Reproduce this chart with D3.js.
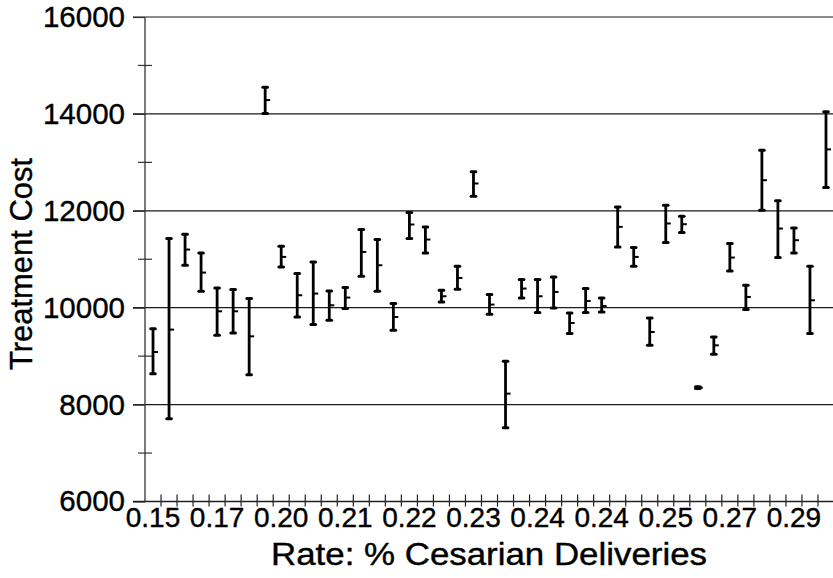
<!DOCTYPE html>
<html>
<head>
<meta charset="utf-8">
<script src="https://cdn.jsdelivr.net/npm/d3@7"></script>
<style>
  html, body { margin: 0; padding: 0; background: #fff; }
  svg { display: block; font-family: "Liberation Sans", Arial, Helvetica, sans-serif; }
</style>
</head>
<body>
<svg id="chart" width="833" height="578"></svg>
<script>
// ---- Data ----
const means = [9085, 9548, 11200, 10725, 9926, 9926, 9409, 14285, 11048, 10257, 10292, 10050, 10209, 11151, 10876, 9808, 11717, 11407, 10236, 10614, 12564, 10064, 8226, 10395, 10236, 10325, 9684, 10139, 10036, 11668, 11048, 9498, 11738, 11723, 8350, 9223, 11035, 10222, 12632, 11634, 11393, 10153, 13267];
const lows  = [8638, 7709, 10876, 10339, 9430, 9478, 8618, 14010, 10841, 9808, 9651, 9740, 9982, 10649, 10339, 9533, 11427, 11131, 10118, 10380, 12302, 9864, 7523, 10201, 9899, 9994, 9465, 9899, 9912, 11254, 10856, 9223, 11345, 11552, 8330, 9038, 10759, 9961, 12013, 11035, 11131, 9465, 12482];
const highs = [9568, 11427, 11517, 11131, 10407, 10374, 10188, 14548, 11269, 10705, 10945, 10346, 10416, 11614, 11407, 10085, 11965, 11668, 10360, 10856, 12804, 10271, 8893, 10581, 10581, 10635, 9891, 10395, 10201, 12081, 11242, 9788, 12116, 11889, 8370, 9395, 11325, 10463, 13252, 12205, 11647, 10856, 14044];
const categories = d3.range(means.length);           // one band per hospital group
const tickPositions = [0, 4, 8, 12, 16, 20, 24, 28, 32, 36, 40];
const tickLabels = ["0.15", "0.17", "0.20", "0.21", "0.22", "0.23", "0.24", "0.24", "0.25", "0.27", "0.29"];
const yMajor = [6000, 8000, 10000, 12000, 14000, 16000];
const yMinor = [7000, 9000, 11000, 13000, 15000];
const yGrid = [8000, 10000, 12000, 14000, 16000];
const xTitle = "Rate: % Cesarian Deliveries";
const yTitle = "Treatment Cost";

// ---- Layout ----
const svg = d3.select("#chart");
const plotLeft = 145, plotRight = 834, plotTop = 17, plotBottom = 501.5;

const x = d3.scaleBand().domain(categories).range([plotLeft, plotRight]).paddingInner(0).paddingOuter(0);
const y = d3.scaleLinear().domain([6000, 16000]).range([plotBottom, plotTop]);

svg.append("rect").attr("width", 833).attr("height", 578).attr("fill", "#fff");

// Gridlines
svg.append("g").selectAll("line").data(yGrid).join("line")
  .attr("x1", 133).attr("x2", 833)
  .attr("y1", d => y(d)).attr("y2", d => y(d))
  .attr("stroke", "#1a1a1a").attr("stroke-width", 1.2);

// Y axis (major ticks extending left)
const yAxis = d3.axisLeft(y).tickValues(yMajor).tickSize(12).tickPadding(8).tickFormat(d3.format("d"));
const gy = svg.append("g").attr("transform", `translate(${plotLeft},0)`).call(yAxis);
gy.select(".domain").attr("stroke", "#333").attr("stroke-width", 1.3).attr("d", `M0,${plotBottom}V${plotTop}`);
gy.selectAll(".tick line").attr("stroke", "#333").attr("stroke-width", 1.2);
gy.selectAll(".tick text").attr("font-size", 29.5).attr("fill", "#000")
  .attr("stroke", "#000").attr("stroke-width", 0.4)
  .attr("font-family", "'Liberation Sans', Arial, Helvetica, sans-serif");

// Y minor ticks crossing the axis
svg.append("g").selectAll("line").data(yMinor).join("line")
  .attr("x1", plotLeft - 7).attr("x2", plotLeft + 7)
  .attr("y1", d => y(d)).attr("y2", d => y(d))
  .attr("stroke", "#333").attr("stroke-width", 1.2);

// X axis line
svg.append("line").attr("x1", 133).attr("x2", 833).attr("y1", plotBottom).attr("y2", plotBottom)
  .attr("stroke", "#222").attr("stroke-width", 1.3);

// X ticks at band edges, crossing the axis
const edges = categories.map(c => x(c) + x.bandwidth());
svg.append("g").selectAll("line").data(edges).join("line")
  .attr("x1", d => d).attr("x2", d => d)
  .attr("y1", plotBottom - 7).attr("y2", plotBottom + 5)
  .attr("stroke", "#222").attr("stroke-width", 1.2);

// X tick labels
svg.append("g").selectAll("text").data(tickPositions).join("text")
  .attr("x", (d) => x(d) + x.bandwidth() / 2)
  .attr("y", 527)
  .attr("text-anchor", "middle")
  .attr("font-size", 28)
  .attr("fill", "#000").attr("stroke", "#000").attr("stroke-width", 0.4)
  .text((d, i) => tickLabels[i]);

// Error bars
const bars = svg.append("g").selectAll("g").data(categories).join("g")
  .attr("transform", d => `translate(${x(d) + x.bandwidth() / 2},0)`);

bars.append("line")
  .attr("x1", 0).attr("x2", 0)
  .attr("y1", d => y(highs[d])).attr("y2", d => y(lows[d]))
  .attr("stroke", "#000").attr("stroke-width", 2.8);

bars.append("line")
  .attr("x1", -2.3).attr("x2", 2.3)
  .attr("y1", d => y(highs[d])).attr("y2", d => y(highs[d]))
  .attr("stroke", "#000").attr("stroke-width", 3).attr("stroke-linecap", "round");

bars.append("line")
  .attr("x1", -2.3).attr("x2", 2.3)
  .attr("y1", d => y(lows[d])).attr("y2", d => y(lows[d]))
  .attr("stroke", "#000").attr("stroke-width", 3).attr("stroke-linecap", "round");

bars.append("line")
  .attr("x1", 0).attr("x2", 5)
  .attr("y1", d => y(means[d])).attr("y2", d => y(means[d]))
  .attr("stroke", "#000").attr("stroke-width", 2);

// Axis titles
svg.append("text")
  .attr("x", 489).attr("y", 565)
  .attr("text-anchor", "middle")
  .attr("font-size", 31)
  .attr("textLength", 436).attr("lengthAdjust", "spacingAndGlyphs")
  .attr("fill", "#000").attr("stroke", "#000").attr("stroke-width", 0.4)
  .text(xTitle);

svg.append("text")
  .attr("transform", "translate(32,264) rotate(-90)")
  .attr("text-anchor", "middle")
  .attr("font-size", 32)
  .attr("textLength", 212).attr("lengthAdjust", "spacingAndGlyphs")
  .attr("fill", "#000").attr("stroke", "#000").attr("stroke-width", 0.4)
  .text(yTitle);
</script>
</body>
</html>
